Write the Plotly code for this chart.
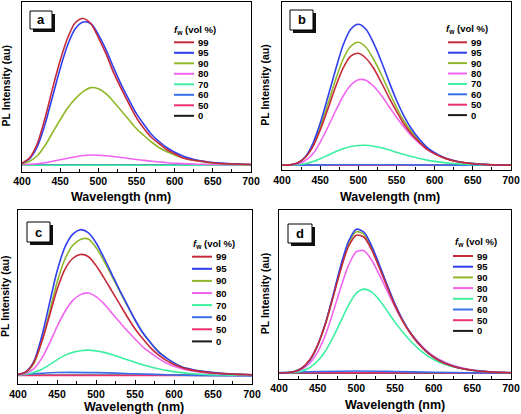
import plotly.graph_objects as go

# ---------------- data ----------------
wl = [400, 410, 420, 430, 440, 450, 460, 470, 480, 490, 500, 510, 520, 530, 540, 550,
      560, 570, 580, 590, 600, 610, 620, 630, 640, 650, 660, 670, 680, 690, 700]
wl_flat = [400, 450, 500, 550, 600, 650, 700]
fw_labels = ["99", "95", "90", "80", "70", "60", "50", "0"]
panel_letters = ["a", "b", "c", "d"]
xticks = [400, 450, 500, 550, 600, 650, 700]

# panel a
a99 = [1.7, 7, 21, 46, 76, 104, 127, 142, 146, 141, 127, 111, 92, 76, 61, 47, 36, 27, 21, 15, 11, 7, 5, 4, 3, 2, 1.3, 1, 0.7, 0.5, 0.3]
a95 = [1.5, 6, 18, 40, 68, 96, 120, 136, 142.5, 141, 130, 115, 97, 80, 65, 51, 40, 30, 23, 17, 12.5, 9, 6.5, 4.5, 3.3, 2.3, 1.7, 1.2, 0.8, 0.5, 0.3]
a90 = [1, 3.5, 9, 19, 32, 45, 57, 66, 73, 77, 76, 71, 63, 54, 45, 36, 29, 22.5, 17, 13, 9.8, 7.2, 5.2, 3.7, 2.6, 1.8, 1.2, 0.8, 0.5, 0.3, 0.2]
a80 = [0.2, 0.5, 1, 2, 3.5, 5, 6.5, 8, 9.2, 9.7, 9.5, 9, 8.2, 7.3, 6.3, 5.3, 4.4, 3.5, 2.8, 2.1, 1.6, 1.2, 0.9, 0.6, 0.4, 0.3, 0.2, 0.1, 0.1, 0, 0]
a70 = [-0.5, -0.5, -0.4, -0.4, -0.5, -0.5, -0.5]
a60 = [-0.3, -0.2, -0.1, -0.2, -0.3, -0.3, -0.3]
a50 = [0, 0, 0.1, 0, 0, 0, 0]
a0 = [-0.2, -0.2, -0.2, -0.2, -0.2, -0.2, -0.2]

# panel b
b99 = [0, 0.4, 2.2, 7.5, 18, 35, 56, 78, 97, 109, 112, 107, 97, 83, 68, 54, 41, 31, 23, 16, 11.5, 8, 5.4, 3.6, 2.4, 1.6, 1.0, 0.6, 0.4, 0.2, 0.1]
b95 = [0, 0.3, 2, 8, 21, 42, 68, 95, 120, 136, 141, 136, 122, 104, 84, 65, 49, 36, 26, 18, 12.5, 8.5, 5.7, 3.8, 2.5, 1.7, 1.1, 0.7, 0.4, 0.2, 0.1]
b90 = [0, 0.3, 2, 7.5, 19, 38, 61, 85, 106, 119, 123, 118, 106, 91, 74, 58, 44, 33, 24, 17, 12, 8, 5.5, 3.7, 2.5, 1.7, 1.1, 0.7, 0.4, 0.2, 0.1]
b80 = [0, 0.2, 1.2, 4.5, 11, 23, 38, 54, 69, 80, 85.5, 85, 79, 70, 59, 48, 38, 29, 22, 16, 11.5, 8, 5.5, 3.8, 2.6, 1.7, 1.1, 0.7, 0.4, 0.2, 0.1]
b70 = [0, 0, 0.5, 1.5, 3.5, 6.5, 10, 13.5, 16.5, 18.7, 19.8, 20, 19, 17.5, 15.5, 13, 10.8, 8.7, 6.8, 5.2, 3.9, 2.9, 2.1, 1.5, 1, 0.7, 0.5, 0.3, 0.2, 0.1, 0]
b60 = [0, 0.4, 0.6, 0.5, 0.3, 0, 0]
b50 = [0, 0.2, 0.2, 0.2, 0.1, 0, 0]
b0 = [0, 0, 0, 0, 0, 0, 0]

# panel c
c99 = [0.5, 3, 12, 32, 58, 85, 105, 116, 120, 118, 109, 97, 84, 71, 58, 46, 36, 27, 20, 14.5, 10.5, 7.5, 5.3, 3.8, 2.8, 2, 1.4, 1, 0.6, 0.4, 0.2]
c95 = [0.5, 3, 13, 37, 70, 103, 127, 140, 144.7, 141.7, 131.7, 117, 101, 85, 70, 55, 42, 32, 23, 17, 12, 8, 6, 4.3, 3.3, 2.3, 1.6, 1.1, 0.7, 0.4, 0.2]
c90 = [0.4, 2.5, 11, 32, 61, 92, 115, 129, 135, 135.5, 127, 114, 99, 84, 69, 55, 42, 32, 23.5, 17, 12, 8.2, 6, 4.3, 3.2, 2.3, 1.6, 1.1, 0.7, 0.4, 0.2]
c80 = [0.3, 1.5, 6, 16, 31, 48, 63, 74, 80, 81.7, 78, 71, 62, 53, 44, 36, 28, 22, 16.5, 12, 8.8, 6.3, 4.5, 3.2, 2.3, 1.6, 1.1, 0.8, 0.5, 0.3, 0.1]
c70 = [0.1, 0.8, 2.5, 5.5, 10, 15, 19.5, 22.5, 24.2, 24.7, 24, 22.5, 20.3, 17.8, 15.2, 12.6, 10.2, 8, 6.2, 4.6, 3.3, 2.3, 1.5, 0.9, 0.5, 0.2, 0, -0.2, -0.3, -0.3, -0.3]
c60 = [0, 2.4, 2.3, 1.2, 0, -0.8, -1]
c50 = [-0.5, -0.5, -0.5, -0.5, -0.5, -0.5, -0.5]
c0 = [-0.3, -0.3, -0.3, -0.3, -0.3, -0.3, -0.3]

# panel d
d99 = [0, 0.3, 1.6, 5.2, 13.5, 28, 49, 76, 104, 127, 138, 136, 123, 105, 86, 67.5, 52, 39.5, 29.5, 21.8, 15.8, 11.3, 8, 5.6, 3.9, 2.7, 1.8, 1.2, 0.8, 0.5, 0.3]
d95 = [0, 0.3, 1.5, 5, 13, 28, 50, 78, 108, 132, 144, 141, 127, 108, 88, 69, 53, 40, 30, 22, 16, 11.5, 8.2, 5.8, 4, 2.8, 1.9, 1.3, 0.8, 0.5, 0.3]
d90 = [0, 0.3, 1.5, 5, 13, 27.5, 49, 77, 106, 130, 141.5, 139, 125, 106.5, 87, 68, 52.5, 40, 30, 22, 16, 11.5, 8.2, 5.8, 4, 2.8, 1.9, 1.3, 0.8, 0.5, 0.3]
d80 = [0, 0.2, 1.2, 4, 10, 21, 38, 61, 86, 108, 121.5, 122.5, 113, 98, 82, 66, 52, 40.5, 31, 23, 17, 12.5, 9, 6.5, 4.6, 3.2, 2.2, 1.5, 1, 0.6, 0.3]
d70 = [0, 0, 0.5, 2, 5.5, 12, 22, 36, 52, 68, 80, 84, 81, 73, 62, 51, 41, 32, 24.5, 18.5, 13.5, 10, 7.2, 5.2, 3.7, 2.6, 1.8, 1.2, 0.8, 0.5, 0.3]
d60 = [0.5, 1.5, 2, 1.5, 0.8, 0.3, 0]
d50 = [0.3, 0.4, 0.4, 0.3, 0.2, 0.1, 0]
d0 = [0, 0, 0, 0, 0, 0, 0]

panels_data = [
    [a99, a95, a90, a80, a70, a60, a50, a0],
    [b99, b95, b90, b80, b70, b60, b50, b0],
    [c99, c95, c90, c80, c70, c60, c50, c0],
    [d99, d95, d90, d80, d70, d60, d50, d0],
]

# ---------------- styling ----------------
colors = ["#c62a3a", "#2f3ff0", "#8fb82a", "#f064f0", "#3cf0a0", "#3a6ee8", "#ee3070", "#1a1a1a"]
W, H = 521, 414
FONT = "Liberation Sans, Arial, sans-serif"

# panel geometry in pixels: left, right, top, bottom
geom = [(22, 251, 1.5, 171.5), (282, 511, 1.5, 170), (18, 252, 210, 384), (279, 511, 210, 378.5)]
yranges = [[-6.7, 163], [-4.7, 163.7], [-9, 164.3], [-5.5, 163.3]]
# legend: title-left x, title y, line x0, line x1, label x, first y, step
legs = [(172, 30, 174, 194, 196, 42.3, 10.5), (444, 29, 448, 467, 469, 42.3, 10.4),
        (191, 244, 192, 212, 214, 256.7, 12.1), (453, 242, 453, 473, 475, 256, 10.7)]
boxes = [(30, 11, 52, 29), (290, 10, 313, 30), (27, 222, 50, 242), (288, 224, 312, 243)]
ytitle_x = [5, 265, 5, 265]
xtitle_pos = [(121, 196.5), (390, 196.5), (134, 407), (395, 405)]


def px(x):
    return x / W


def py(y):
    return 1 - y / H


fig = go.Figure()
shapes = []
annotations = []

for p in range(4):
    ax = "" if p == 0 else str(p + 1)
    for k in reversed(range(8)):
        ys = panels_data[p][k]
        xs = wl if len(ys) == len(wl) else wl_flat
        fig.add_trace(go.Scatter(x=xs, y=ys, mode="lines", line=dict(color=colors[k], width=1.6, shape="spline", smoothing=0.8),
                                 xaxis="x" + ax, yaxis="y" + ax, showlegend=False, hoverinfo="skip"))
    l, r, t, b = geom[p]
    fig.update_layout(**{
        "xaxis" + ax: dict(domain=[px(l), px(r)], anchor="y" + ax, range=[400, 700], tickvals=xticks,
                           ticks="inside", ticklen=4, tickwidth=1, tickcolor="black",
                           minor=dict(tickvals=[425, 475, 525, 575, 625, 675], ticks="inside", ticklen=3, tickcolor="black"),
                           showline=True, linecolor="black", linewidth=1, mirror=True, showgrid=False, zeroline=False,
                           tickfont=dict(family=FONT, size=10.5, color="black", weight="bold"), automargin=False),
        "yaxis" + ax: dict(domain=[py(b), py(t)], anchor="x" + ax, range=yranges[p], showticklabels=False, ticks="",
                           showline=True, linecolor="black", linewidth=1, mirror=True, showgrid=False, zeroline=False,
                           automargin=False),
    })
    # axis titles
    annotations.append(dict(x=px(ytitle_x[p]), y=py((t + b) / 2), xref="paper", yref="paper", text="<b>PL Intensity (au)</b>",
                            textangle=-90, showarrow=False, font=dict(family=FONT, size=10.5, color="black"),
                            xanchor="center", yanchor="middle"))
    annotations.append(dict(x=px(xtitle_pos[p][0]), y=py(xtitle_pos[p][1]), xref="paper", yref="paper",
                            text="<b>Wavelength (nm)</b>", showarrow=False,
                            font=dict(family=FONT, size=12.5, color="black"), xanchor="center", yanchor="middle"))
    # label box with shadow
    bx0, by0, bx1, by1 = boxes[p]
    shapes.append(dict(type="rect", xref="paper", yref="paper", x0=px(bx0 + 3), x1=px(bx1 + 3), y0=py(by1 + 3), y1=py(by0 + 3),
                       fillcolor="#111111", line=dict(width=0)))
    shapes.append(dict(type="rect", xref="paper", yref="paper", x0=px(bx0), x1=px(bx1), y0=py(by1), y1=py(by0),
                       fillcolor="white", line=dict(color="black", width=1)))
    annotations.append(dict(x=px((bx0 + bx1) / 2), y=py((by0 + by1) / 2), xref="paper", yref="paper",
                            text="<b>" + panel_letters[p] + "</b>", showarrow=False,
                            font=dict(family=FONT, size=13, color="black"), xanchor="center", yanchor="middle"))
    # legend
    tx, ty, lx0, lx1, lbx, y0, step = legs[p]
    annotations.append(dict(x=px(tx), y=py(ty), xref="paper", yref="paper",
                            text="<b><i>f</i><sub>w</sub> (vol %)</b>", showarrow=False,
                            font=dict(family=FONT, size=9.5, color="black"), xanchor="left", yanchor="middle"))
    for k in range(8):
        yy = y0 + k * step
        shapes.append(dict(type="line", xref="paper", yref="paper", x0=px(lx0), x1=px(lx1), y0=py(yy), y1=py(yy),
                           line=dict(color=colors[k], width=2)))
        annotations.append(dict(x=px(lbx), y=py(yy), xref="paper", yref="paper", text="<b>" + fw_labels[k] + "</b>",
                                showarrow=False, font=dict(family=FONT, size=9.5, color="black"),
                                xanchor="left", yanchor="middle"))

fig.update_layout(width=W, height=H, margin=dict(l=0, r=0, t=0, b=0), paper_bgcolor="white", plot_bgcolor="white",
                  shapes=shapes, annotations=annotations, showlegend=False)

fig.write_html("out.html", config={"displayModeBar": False},
               post_script="document.body.style.margin='0px';document.body.style.overflow='hidden';")
